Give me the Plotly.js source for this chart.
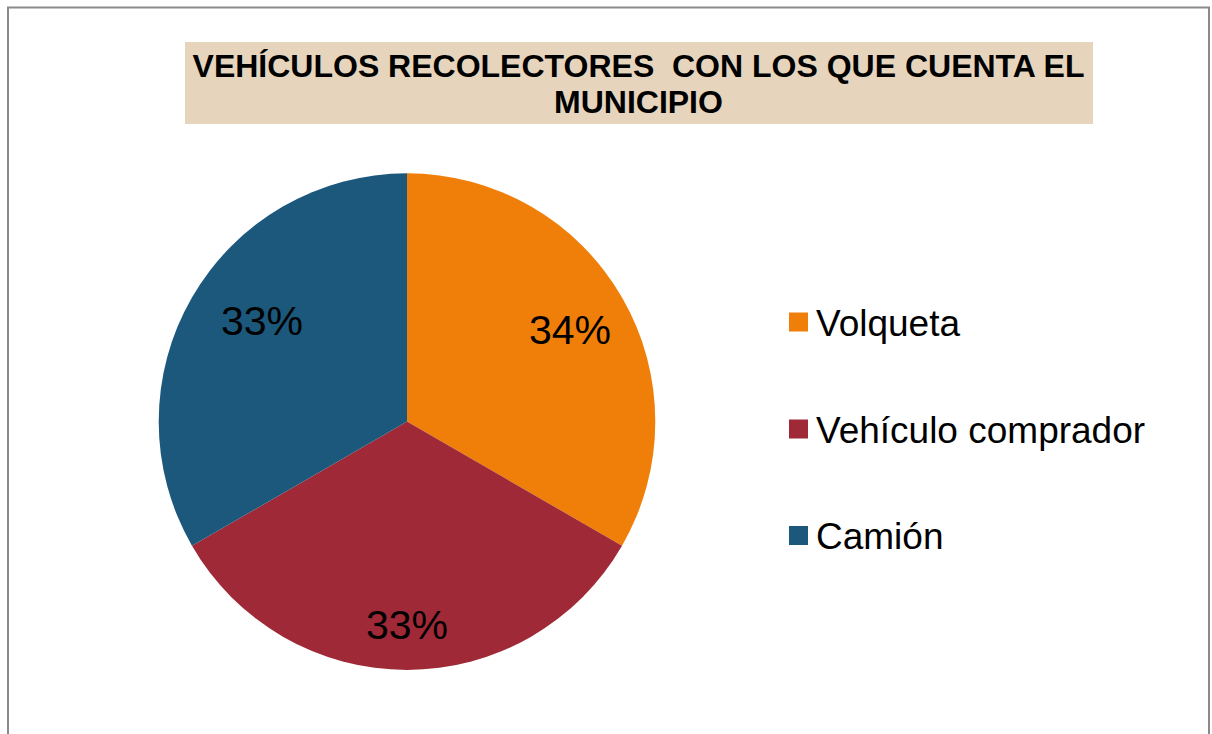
<!DOCTYPE html>
<html>
<head>
<meta charset="utf-8">
<script src="https://cdn.plot.ly/plotly-3.0.1.min.js"></script>
<style>
  html, body { margin: 0; padding: 0; background: #ffffff; }
  #chart { width: 1212px; height: 734px; }
</style>
</head>
<body>
<div id="chart"></div>
<script>
// ---- data ----
const categories = ['Volqueta', 'Vehículo comprador', 'Camión'];
const vehicleCounts = [1, 1, 1];
const percentLabels = ['34%', '33%', '33%'];
const sliceColors = ['#F07F09', '#9F2936', '#1B587C'];
const titleLine1 = 'VEHÍCULOS RECOLECTORES \u00A0CON LOS QUE CUENTA EL';
const titleLine2 = 'MUNICIPIO';

// ---- layout helpers (pixel -> paper) ----
const W = 1212, H = 734;
const px = x => x / W;
const py = y => 1 - y / H;
const FONT = 'Liberation Sans, Arial, sans-serif';

const cx = 407, cy = 421.6, R = 248.3;
// label placement style: fraction of radius and small angular shift (degrees)
const labelRadiusFrac = [0.755, 0.82, 0.71];
const labelAngleShift = [0.7, 0, 4.7];

const trace = {
  type: 'pie',
  labels: categories,
  values: vehicleCounts,
  text: percentLabels,
  textinfo: 'none',
  marker: { colors: sliceColors, line: { width: 0 } },
  sort: false,
  direction: 'clockwise',
  rotation: 0,
  showlegend: false,
  hoverinfo: 'label+text',
  domain: { x: [px(cx - R), px(cx + R)], y: [py(cy + R), py(cy - R)] }
};

const shapes = [
  { type: 'rect', xref: 'paper', yref: 'paper', layer: 'below',
    x0: px(8), x1: px(1209), y0: py(760), y1: py(7.5),
    line: { color: '#8a8a8a', width: 2 }, fillcolor: 'rgba(0,0,0,0)' },
  { type: 'rect', xref: 'paper', yref: 'paper', layer: 'below',
    x0: px(185), x1: px(1093), y0: py(124), y1: py(42),
    line: { width: 0 }, fillcolor: '#E6D5BC' }
];

const annotations = [];

// percentage labels placed at each slice's mid-angle, computed from the data
const total = vehicleCounts.reduce((a, b) => a + b, 0);
let cum = 0;
vehicleCounts.forEach((v, i) => {
  const mid = (cum + v / 2) / total * 360 + labelAngleShift[i];
  cum += v;
  const a = mid * Math.PI / 180;
  const r = R * labelRadiusFrac[i];
  annotations.push({ xref: 'paper', yref: 'paper',
    x: px(cx + r * Math.sin(a)), y: py(cy - r * Math.cos(a)),
    xanchor: 'center', yanchor: 'middle', showarrow: false, text: percentLabels[i],
    font: { family: FONT, size: 41, color: '#000000' } });
});

// custom legend
const legendY = [322, 429, 535.5];
categories.forEach((name, i) => {
  shapes.push({ type: 'rect', xref: 'paper', yref: 'paper',
    x0: px(789), x1: px(808), y0: py(legendY[i] + 9.5), y1: py(legendY[i] - 9.5),
    line: { width: 0 }, fillcolor: sliceColors[i] });
  annotations.push({ xref: 'paper', yref: 'paper', x: px(814), y: py(legendY[i] + 1),
    xanchor: 'left', yanchor: 'middle', showarrow: false, text: name,
    font: { family: FONT, size: 37, color: '#000000' } });
});

// second title line
annotations.push({ xref: 'paper', yref: 'paper', x: px(638.5), y: py(102),
  xanchor: 'center', yanchor: 'middle', showarrow: false, text: titleLine2,
  font: { family: FONT, size: 32, color: '#000000', weight: 'bold' } });

const layout = {
  width: W, height: H,
  margin: { l: 0, r: 0, t: 0, b: 0 },
  paper_bgcolor: '#ffffff',
  title: {
    text: titleLine1,
    x: px(638.5), xref: 'paper', xanchor: 'center',
    y: py(66), yref: 'paper', yanchor: 'middle',
    font: { family: FONT, size: 32, color: '#000000', weight: 'bold' }
  },
  shapes: shapes,
  annotations: annotations,
  showlegend: false
};

Plotly.newPlot('chart', [trace], layout, { displayModeBar: false, staticPlot: true });
</script>
</body>
</html>
